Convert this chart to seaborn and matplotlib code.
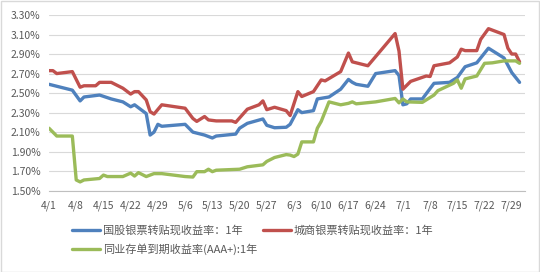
import matplotlib
matplotlib.use('Agg')
import matplotlib.pyplot as plt
from matplotlib.lines import Line2D
from matplotlib.patches import Rectangle
import seaborn as sns
import pandas as pd

YEAR = 2020

series_names = ['国股银票转贴现收益率：1年', '城商银票转贴现收益率：1年', '同业存单到期收益率(AAA+):1年']
series_colors = ['#4F81BD', '#C0504D', '#9BBB59']

blue_dates = ['4/1', '4/7', '4/9', '4/10', '4/14', '4/17', '4/20', '4/22', '4/23', '4/26', '4/27', '4/28',
              '4/29', '4/30', '5/6', '5/8', '5/11', '5/13', '5/14', '5/19', '5/20', '5/22', '5/26', '5/27',
              '5/29', '6/1', '6/2', '6/4', '6/5', '6/8', '6/9', '6/12', '6/15', '6/17', '6/18', '6/19',
              '6/22', '6/24', '6/29', '6/30', '7/1', '7/2', '7/3', '7/6', '7/9', '7/13', '7/15', '7/17',
              '7/20', '7/23', '7/27', '7/29', '7/31']
blue_vals = [2.59, 2.53, 2.42, 2.46, 2.48, 2.44, 2.41, 2.36, 2.38, 2.29, 2.07, 2.10,
             2.18, 2.16, 2.18, 2.10, 2.07, 2.04, 2.06, 2.08, 2.14, 2.19, 2.235, 2.17,
             2.145, 2.15, 2.18, 2.33, 2.30, 2.32, 2.44, 2.46, 2.54, 2.64, 2.61, 2.59,
             2.57, 2.70, 2.73, 2.68, 2.38, 2.39, 2.44, 2.44, 2.60, 2.61, 2.66, 2.77,
             2.81, 2.96, 2.86, 2.71, 2.61]

red_dates = ['4/1', '4/2', '4/3', '4/7', '4/9', '4/10', '4/13', '4/14', '4/17', '4/20', '4/22', '4/23',
             '4/24', '4/26', '4/27', '4/28', '4/30', '5/6', '5/8', '5/9', '5/11', '5/12', '5/14', '5/18',
             '5/19', '5/22', '5/25', '5/26', '5/27', '5/29', '6/1', '6/2', '6/4', '6/5', '6/8', '6/10',
             '6/11', '6/15', '6/17', '6/18', '6/22', '6/29', '6/30', '7/1', '7/3', '7/7', '7/8', '7/9',
             '7/13', '7/15', '7/16', '7/17', '7/20', '7/21', '7/23', '7/27', '7/28', '7/29', '7/30', '7/31']
red_vals = [2.73, 2.73, 2.70, 2.72, 2.56, 2.575, 2.575, 2.61, 2.61, 2.55, 2.49, 2.515,
            2.515, 2.43, 2.31, 2.285, 2.38, 2.345, 2.24, 2.21, 2.26, 2.225, 2.215, 2.215,
            2.20, 2.335, 2.38, 2.42, 2.33, 2.355, 2.32, 2.27, 2.515, 2.465, 2.515, 2.635,
            2.625, 2.72, 2.91, 2.82, 2.78, 3.11, 2.93, 2.54, 2.62, 2.675, 2.67, 2.78,
            2.81, 2.87, 2.95, 2.935, 2.935, 3.05, 3.16, 3.10, 2.96, 2.90, 2.90, 2.82]

green_dates = ['4/1', '4/2', '4/3', '4/7', '4/8', '4/9', '4/10', '4/14', '4/15', '4/16', '4/20', '4/22',
               '4/23', '4/24', '4/26', '4/28', '4/30', '5/6', '5/8', '5/9', '5/11', '5/12', '5/13', '5/14',
               '5/20', '5/22', '5/26', '5/27', '5/29', '6/1', '6/2', '6/3', '6/4', '6/5', '6/8', '6/9',
               '6/10', '6/12', '6/15', '6/17', '6/18', '6/19', '6/24', '6/29', '6/30', '7/1', '7/2', '7/6',
               '7/8', '7/9', '7/10', '7/14', '7/15', '7/16', '7/17', '7/20', '7/22', '7/24', '7/27', '7/30',
               '7/31']
green_vals = [2.14, 2.10, 2.06, 2.06, 1.61, 1.59, 1.61, 1.625, 1.66, 1.645, 1.645, 1.68,
              1.65, 1.685, 1.645, 1.675, 1.675, 1.645, 1.64, 1.695, 1.695, 1.72, 1.695, 1.71,
              1.72, 1.745, 1.765, 1.80, 1.84, 1.87, 1.865, 1.85, 1.875, 2.00, 2.00, 2.14,
              2.21, 2.41, 2.38, 2.395, 2.41, 2.39, 2.41, 2.445, 2.40, 2.44, 2.41, 2.405,
              2.455, 2.48, 2.525, 2.60, 2.635, 2.55, 2.645, 2.675, 2.805, 2.81, 2.83, 2.83,
              2.805]

tick_labels = ['4/1', '4/8', '4/15', '4/22', '4/29', '5/6', '5/13', '5/20', '5/27', '6/3',
               '6/10', '6/17', '6/24', '7/1', '7/8', '7/15', '7/22', '7/29']
ytick_vals = [1.50, 1.70, 1.90, 2.10, 2.30, 2.50, 2.70, 2.90, 3.10, 3.30]


def to_dt(s):
    m, d = s.split('/')
    return pd.Timestamp(year=YEAR, month=int(m), day=int(d))


frames = []
for name, dates, vals in zip(series_names, [blue_dates, red_dates, green_dates],
                             [blue_vals, red_vals, green_vals]):
    frames.append(pd.DataFrame({'date': [to_dt(s) for s in dates], 'value': vals, 'series': name}))
df = pd.concat(frames, ignore_index=True)

sns.set_theme(style='white')
plt.rcParams['font.family'] = ['Noto Sans CJK SC', 'DejaVu Sans']

W, H = 540, 272
fig = plt.figure(figsize=(W / 100, H / 100), dpi=100)
fig.patch.set_facecolor('white')
left, right, top, bottom = 49, 525, 15, 190.7
ax = fig.add_axes([left / W, 1 - bottom / H, (right - left) / W, (bottom - top) / H])

sns.lineplot(data=df, x='date', y='value', hue='series', hue_order=series_names,
             palette=dict(zip(series_names, series_colors)), linewidth=2.4,
             estimator=None, legend=False, ax=ax)
for ln in ax.get_lines():
    ln.set_solid_joinstyle('round')
    ln.set_solid_capstyle('round')

ax.set_xlim(to_dt('4/1'), to_dt('4/1') + pd.Timedelta(days=122.4))
ax.set_ylim(1.5, 3.3)
ax.set_xticks([to_dt(s) for s in tick_labels])
ax.set_xticklabels(tick_labels)
ax.set_yticks(ytick_vals)
ax.set_yticklabels([f'{v:.2f}%' for v in ytick_vals])
ax.set_xlabel('')
ax.set_ylabel('')

ax.grid(axis='y', color='#D9D9D9', linewidth=0.8)
ax.grid(axis='x', visible=False)
ax.set_axisbelow(True)
for sp in ['left', 'right', 'top']:
    ax.spines[sp].set_visible(False)
ax.spines['bottom'].set_color('#BFBFBF')
ax.spines['bottom'].set_linewidth(0.8)
ax.tick_params(axis='x', direction='out', length=4, width=0.8, color='#BFBFBF',
               labelsize=7.5, labelcolor='#595959', pad=3)
ax.tick_params(axis='y', length=0, labelsize=7.5, labelcolor='#595959', pad=6)

handles = [Line2D([], [], color=c, linewidth=2.4) for c in series_colors]
order = [0, 2, 1]
fig.legend([handles[i] for i in order], [series_names[i] for i in order],
           ncol=2, loc='upper left', bbox_to_anchor=(72 / W, 1 - 225 / H),
           frameon=False, fontsize=8, labelcolor='#595959',
           handlelength=2.5, handletextpad=0.3, columnspacing=0.5,
           labelspacing=0.65, borderaxespad=0, borderpad=0)

fig.patches.append(Rectangle((0.5 / W, 0.5 / H), 1 - 1.5 / W, 1 - 1.5 / H,
                             transform=fig.transFigure, fill=False,
                             edgecolor='#D9D9D9', linewidth=1))

fig.savefig('out.png', dpi=100)
